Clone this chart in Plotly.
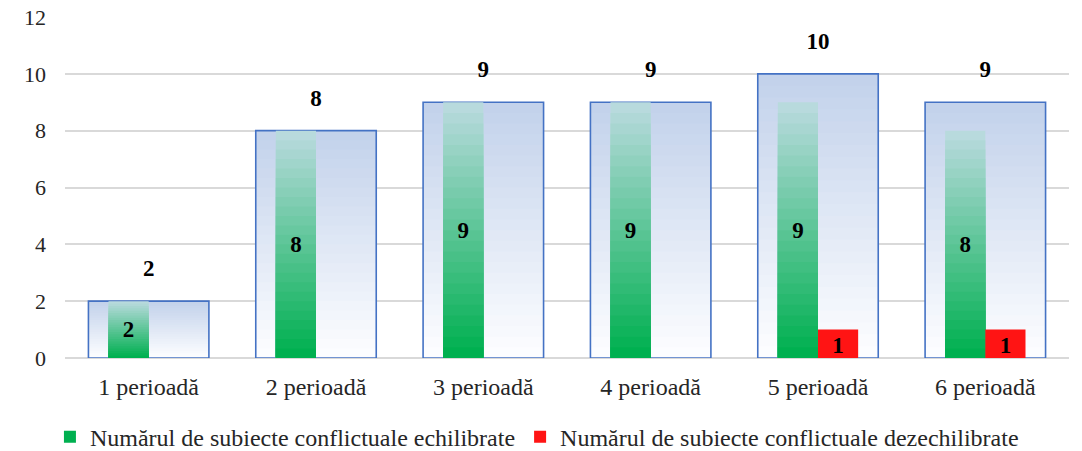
import plotly.graph_objects as go

categories = ["1 perioadă", "2 perioadă", "3 perioadă", "4 perioadă", "5 perioadă", "6 perioadă"]
total = [2, 8, 9, 9, 10, 9]
echilibrate = [2, 8, 9, 9, 9, 8]
dezechilibrate = [0, 0, 0, 0, 1, 1]
name_ech = "Numărul de subiecte conflictuale echilibrate"
name_dez = "Numărul de subiecte conflictuale dezechilibrate"

FONT = "Liberation Serif"
N = 24
LBL = 23


def hex2rgb(h):
    h = h.lstrip("#")
    return tuple(int(h[i:i + 2], 16) for i in (0, 2, 4))


def interp(c1, c2, t):
    a, b = hex2rgb(c1), hex2rgb(c2)
    return "rgb(%d,%d,%d)" % tuple(round(a[i] + (b[i] - a[i]) * t) for i in range(3))


W_TOT = 0.72
W_SUB = 0.24

fig = go.Figure()

# total bars: gradient blue (top) -> white (bottom)
for k in range(N):
    frac = 1 - k / N
    fig.add_bar(x=categories, y=[v * frac for v in total], width=W_TOT, offset=-W_TOT / 2,
                marker=dict(color=interp("#C3D2EB", "#FCFDFF", k / (N - 1)), line=dict(width=0)),
                showlegend=False, hoverinfo="skip")
# total outline
fig.add_bar(x=categories, y=total, width=W_TOT, offset=-W_TOT / 2,
            marker=dict(color="rgba(0,0,0,0)", line=dict(color="#4472C4", width=1.6)),
            showlegend=False, hoverinfo="skip")

# green bars: gradient light teal (top) -> green (bottom)
for k in range(N):
    frac = 1 - k / N
    fig.add_bar(x=categories, y=[v * frac for v in echilibrate], width=W_SUB, offset=-W_SUB,
                marker=dict(color=interp("#B8DADD", "#00B050", k / (N - 1)), line=dict(width=0)),
                showlegend=(k == N - 1), name=name_ech, legendrank=1, hoverinfo="skip")
fig.add_bar(x=categories, y=echilibrate, width=W_SUB, offset=-W_SUB,
            marker=dict(color="rgba(0,0,0,0)", line=dict(width=0)),
            text=["<b>%d</b>" % v for v in echilibrate], textposition="inside",
            insidetextanchor="middle", textangle=0, constraintext="none",
            textfont=dict(family=FONT, size=LBL, color="#000000"),
            showlegend=False, hoverinfo="skip")

# red bars
fig.add_bar(x=categories, y=dezechilibrate, width=W_SUB, offset=0, name=name_dez, legendrank=2,
            marker=dict(color="#FF1414", line=dict(width=0)),
            text=["<b>%d</b>" % v if v else "" for v in dezechilibrate], textposition="inside",
            insidetextanchor="end", textangle=0, constraintext="none",
            textfont=dict(family=FONT, size=LBL, color="#000000"),
            hoverinfo="skip")

# total labels above the bars
fig.add_scatter(x=categories, y=total, mode="markers+text",
                marker=dict(size=29, opacity=0),
                text=["<b>%d</b>" % v for v in total], textposition="top center",
                textfont=dict(family=FONT, size=LBL, color="#000000"), cliponaxis=False,
                showlegend=False, hoverinfo="skip")

fig.update_layout(
    width=1082, height=451,
    barmode="overlay",
    margin=dict(l=65, r=13, t=17, b=93, autoexpand=False),
    plot_bgcolor="white", paper_bgcolor="white",
    font=dict(family=FONT, size=24, color="#262626"),
    showlegend=True,
    legend=dict(orientation="h", x=-0.015, xanchor="left",
                y=-0.232, yanchor="middle", font=dict(family=FONT, size=24, color="#262626"),
                traceorder="normal"),
)
fig.update_xaxes(showgrid=False, showline=False, ticks="", ticklabelstandoff=12, tickangle=0,
                 tickfont=dict(family=FONT, size=24, color="#262626"))
fig.update_yaxes(range=[0, 12], dtick=2, showgrid=True, gridcolor="#D9D9D9", gridwidth=1.5,
                 zeroline=True, zerolinecolor="#D9D9D9", zerolinewidth=1.5, showline=False,
                 ticks="", ticklabelstandoff=18,
                 tickfont=dict(family=FONT, size=22, color="#262626"))

fig.write_html("out.html", config={"displayModeBar": False},
               post_script="document.body.style.margin='0px';")
